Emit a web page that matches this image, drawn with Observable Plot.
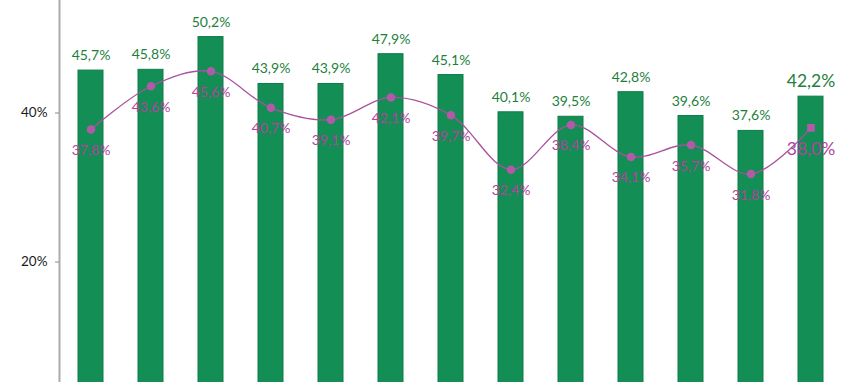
<!DOCTYPE html>
<html>
<head>
<meta charset="utf-8">
<script src="https://cdn.jsdelivr.net/npm/d3@7"></script>
<script src="https://cdn.jsdelivr.net/npm/@observablehq/plot@0.6"></script>
<style>
  html, body { margin: 0; padding: 0; background: #fff; overflow: hidden; }
  #chart svg { overflow: hidden; }
</style>
</head>
<body>
<div id="chart"></div>
<script>
const categories = ["1", "2", "3", "4", "5", "6", "7", "8", "9", "10", "11", "12", "13"];
const barValues = [45.7, 45.8, 50.2, 43.9, 43.9, 47.9, 45.1, 40.1, 39.5, 42.8, 39.6, 37.6, 42.2];
const lineValues = [37.8, 43.6, 45.6, 40.7, 39.1, 42.1, 39.7, 32.4, 38.4, 34.1, 35.7, 31.8, 38.0];
const yTicks = [20, 40];

const last = categories.length - 1;
const fmt = v => v.toFixed(1).replace(".", ",") + "%";
const bars = categories.map((c, i) => ({cat: c, v: barValues[i], i}));
const pts = categories.map((c, i) => ({cat: c, v: lineValues[i], i}));

const green = "#138e54";
const greenText = "#1d7f3c";
const purple = "#a9529f";
const purpleText = "#b0449e";

const chart = Plot.plot({
  width: 860,
  height: 382,
  marginLeft: 59,
  marginRight: 19,
  marginTop: 0,
  marginBottom: 0,
  style: {fontFamily: "Lato, 'Open Sans', sans-serif", background: "#fff"},
  x: {domain: categories, paddingInner: 0.585, paddingOuter: 0.2925, axis: null},
  y: {domain: [0, 55], range: [410.5, 0.8], axis: null},
  marks: [
    Plot.barY(bars, {x: "cat", y: "v", fill: green, stroke: "#0f7d47", strokeWidth: 1, clip: true}),
    Plot.frame({anchor: "left", stroke: "#ababab", strokeWidth: 2}),
    Plot.axisY({ticks: yTicks, tickFormat: d => d + "%", tickSize: 4, tickPadding: 8, label: null,
      stroke: "#8a8a8a", fill: "#1a1a1a", fontSize: 13.5}),
    Plot.text(bars, {x: "cat", y: "v", text: d => fmt(d.v), dy: -15, lineAnchor: "middle",
      fill: greenText, fontSize: d => d.i === last ? 17.5 : 14}),
    Plot.line(pts, {x: "cat", y: "v", stroke: purple, strokeWidth: 1.3, curve: "catmull-rom"}),
    Plot.dot(pts, {x: "cat", y: "v", r: 3.5, fill: "#b25aa8", stroke: "#b25aa8",
      symbol: d => d.i === last ? "square" : "circle"}),
    Plot.text(pts, {x: "cat", y: "v", text: d => fmt(d.v), dy: 21, lineAnchor: "middle",
      fill: purpleText, fontSize: d => d.i === last ? 17.5 : 14})
  ]
});
document.getElementById("chart").appendChild(chart);
</script>
</body>
</html>
